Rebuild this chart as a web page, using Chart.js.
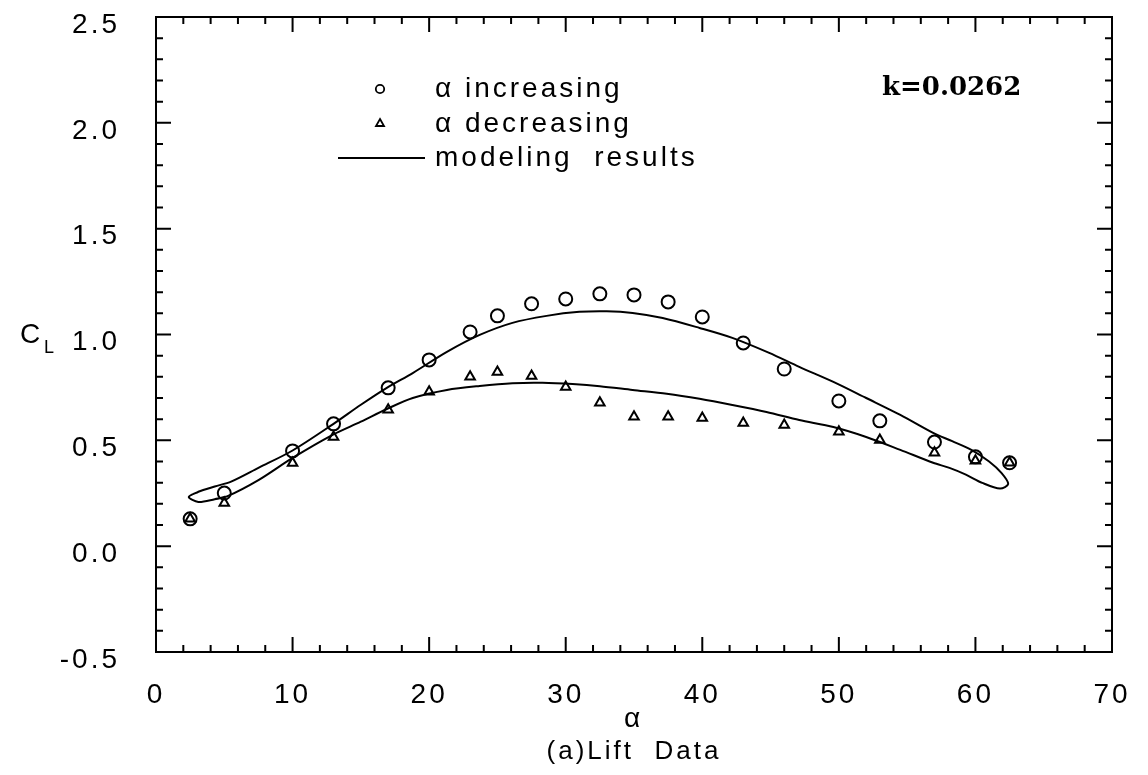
<!DOCTYPE html>
<html>
<head>
<meta charset="utf-8">
<title>Lift Data</title>
<script src="https://cdn.jsdelivr.net/npm/chart.js@4"></script>
<style>
  html, body { margin: 0; padding: 0; background: #fff; }
  #liftChart { display: block; }
</style>
</head>
<body>
<canvas id="liftChart" width="1148" height="775"></canvas>
<script>
// measured lift coefficient, alpha increasing
const alphaUp = [2.5, 5, 10, 13, 17, 20, 23, 25, 27.5, 30, 32.5, 35, 37.5, 40, 43, 46, 50, 53, 57, 60, 62.5];
const clUp = [0.129, 0.251, 0.450, 0.578, 0.748, 0.880, 1.012, 1.088, 1.145, 1.168, 1.192, 1.187, 1.154, 1.083, 0.960, 0.837, 0.686, 0.592, 0.492, 0.422, 0.394];

// measured lift coefficient, alpha decreasing
const alphaDown = [2.5, 5, 10, 13, 17, 20, 23, 25, 27.5, 30, 32.5, 35, 37.5, 40, 43, 46, 50, 53, 57, 60, 62.5];
const clDown = [0.129, 0.204, 0.393, 0.516, 0.644, 0.729, 0.800, 0.823, 0.804, 0.752, 0.677, 0.611, 0.611, 0.606, 0.582, 0.573, 0.540, 0.502, 0.441, 0.403, 0.394];

// model hysteresis loop, traced once round from the lower branch near the left end
// (the first few points are repeated at the end so the loop closes smoothly)
const modelAlpha = [5.2, 4.3, 3.1, 2.4, 3.1, 4.3, 5.5, 7.5, 10.0, 13.0, 15.0, 16.9, 18.8, 21.3, 23.7, 26.1, 28.6, 31.0, 33.0, 34.9, 37.1, 39.8, 42.2, 44.9, 47.1, 49.6, 52.0, 54.5, 56.9, 58.3, 59.7, 61.0, 61.9, 62.4,
                    61.8, 60.5, 59.3, 58.1, 56.9, 54.5, 52.0, 49.6, 47.1, 44.7, 42.2, 39.8, 37.4, 34.9, 32.5, 30.5, 28.3, 26.1, 23.7, 21.3, 18.8, 16.9, 15.0, 12.9, 10.0, 7.5, 5.2, 4.3, 3.1, 2.4, 3.1];
const modelCl = [0.235, 0.222, 0.209, 0.232, 0.257, 0.282, 0.305, 0.370, 0.452, 0.578, 0.668, 0.748, 0.818, 0.918, 0.998, 1.055, 1.088, 1.107, 1.110, 1.102, 1.078, 1.031, 0.984, 0.913, 0.847, 0.776, 0.700, 0.620, 0.535, 0.496, 0.455, 0.400, 0.346, 0.294,
                 0.272, 0.299, 0.338, 0.370, 0.394, 0.455, 0.516, 0.563, 0.596, 0.634, 0.667, 0.696, 0.720, 0.738, 0.756, 0.766, 0.772, 0.770, 0.757, 0.738, 0.700, 0.648, 0.588, 0.525, 0.417, 0.312, 0.235, 0.222, 0.209, 0.232, 0.257];

const xTicks = [0, 10, 20, 30, 40, 50, 60, 70];
const yTicks = [-0.5, 0.0, 0.5, 1.0, 1.5, 2.0, 2.5];

const toPoints = (xs, ys) => xs.map((x, i) => ({ x: x, y: ys[i] }));

const labelFont = { family: "'Liberation Sans', Arial, sans-serif", size: 28 };

// keep the plot frame where it is, whatever the tick labels want
function fixBox(s, w, h) {
  if (w) s.width = w;
  if (h) s.height = h;
  s.paddingLeft = 0;
  s.paddingRight = 0;
  s.paddingTop = 0;
  s.paddingBottom = 0;
}

// frame with inward ticks on all four sides, plus the loose text
const frameAndText = {
  id: 'frameAndText',
  beforeDraw(chart) {
    chart.ctx.letterSpacing = '3px';
  },
  afterDraw(chart) {
    const ctx = chart.ctx;
    const a = chart.chartArea;
    const xs = chart.scales.x;
    const ys = chart.scales.y;
    ctx.save();
    ctx.strokeStyle = '#000';
    ctx.lineWidth = 2;
    ctx.strokeRect(a.left, a.top, a.right - a.left, a.bottom - a.top);

    ctx.beginPath();
    for (let v = 2; v < 70; v += 2) {
      const px = xs.getPixelForValue(v);
      const len = v % 10 === 0 ? 15 : 7;
      ctx.moveTo(px, a.bottom); ctx.lineTo(px, a.bottom - len);
      ctx.moveTo(px, a.top); ctx.lineTo(px, a.top + len);
    }
    for (let i = -4; i < 25; i++) {
      const py = ys.getPixelForValue(i / 10);
      const len = i % 5 === 0 ? 15 : 7;
      ctx.moveTo(a.left, py); ctx.lineTo(a.left + len, py);
      ctx.moveTo(a.right, py); ctx.lineTo(a.right - len, py);
    }
    ctx.stroke();

    ctx.fillStyle = '#000';
    ctx.textBaseline = 'middle';
    ctx.textAlign = 'left';
    ctx.letterSpacing = '3px';
    ctx.font = "28px 'Liberation Sans', Arial, sans-serif";

    // legend
    ctx.lineWidth = 1.8;
    ctx.beginPath();
    ctx.arc(380, 89, 4.2, 0, Math.PI * 2);
    ctx.stroke();
    ctx.beginPath();
    ctx.moveTo(380, 119); ctx.lineTo(384, 126); ctx.lineTo(376, 126); ctx.closePath();
    ctx.stroke();
    ctx.lineWidth = 2;
    ctx.beginPath();
    ctx.moveTo(338, 158); ctx.lineTo(425, 158);
    ctx.stroke();
    ctx.fillText('\u03b1 increasing', 435, 89);
    ctx.fillText('\u03b1 decreasing', 435, 124);
    ctx.fillText('modeling  results', 435, 158);

    // reduced frequency
    ctx.letterSpacing = '0px';
    ctx.font = "bold 26px 'DejaVu Serif', serif";
    ctx.fillText('k=0.0262', 882, 88);

    // axis titles
    ctx.letterSpacing = '2px';
    ctx.font = "28px 'Liberation Sans', Arial, sans-serif";
    ctx.fillText('C', 20, 335);
    ctx.font = "18px 'Liberation Sans', Arial, sans-serif";
    ctx.fillText('L', 44, 348);
    ctx.textAlign = 'center';
    ctx.font = "28px 'Liberation Sans', Arial, sans-serif";
    ctx.fillText('\u03b1', 633, 719);
    ctx.letterSpacing = '3px';
    ctx.font = "26px 'Liberation Sans', Arial, sans-serif";
    ctx.fillText('(a)Lift  Data', 634, 752);
    ctx.restore();
  }
};

new Chart(document.getElementById('liftChart'), {
  type: 'scatter',
  data: {
    datasets: [
      {
        label: 'modeling results',
        data: toPoints(modelAlpha, modelCl),
        showLine: true,
        borderColor: '#000',
        borderWidth: 2,
        pointRadius: 0,
        tension: 0.3,
        fill: false
      },
      {
        label: '\u03b1 increasing',
        data: toPoints(alphaUp, clUp),
        pointStyle: 'circle',
        pointRadius: 6.5,
        borderColor: '#000',
        backgroundColor: 'rgba(0,0,0,0)',
        borderWidth: 2
      },
      {
        label: '\u03b1 decreasing',
        data: toPoints(alphaDown, clDown),
        pointStyle: 'triangle',
        pointRadius: 5.5,
        borderColor: '#000',
        backgroundColor: 'rgba(0,0,0,0)',
        borderWidth: 2
      }
    ]
  },
  options: {
    responsive: false,
    animation: false,
    layout: { padding: { top: 17, right: 36, left: 0, bottom: 0 } },
    plugins: {
      legend: { display: false },
      tooltip: { enabled: false }
    },
    scales: {
      x: {
        type: 'linear',
        min: 0,
        max: 70,
        afterBuildTicks: s => { s.ticks = xTicks.map(v => ({ value: v })); },
        afterFit: s => fixBox(s, 0, 123),
        grid: { display: false, drawTicks: false },
        border: { display: false },
        ticks: { color: '#000', font: labelFont, padding: 26, autoSkip: false, maxRotation: 0 }
      },
      y: {
        type: 'linear',
        min: -0.5,
        max: 2.5,
        afterBuildTicks: s => { s.ticks = yTicks.map(v => ({ value: v })); },
        afterFit: s => fixBox(s, 156, 0),
        grid: { display: false, drawTicks: false },
        border: { display: false },
        ticks: {
          color: '#000',
          font: labelFont,
          padding: 36,
          labelOffset: 8,
          autoSkip: false,
          callback: v => v.toFixed(1)
        }
      }
    }
  },
  plugins: [frameAndText]
});
</script>
</body>
</html>
